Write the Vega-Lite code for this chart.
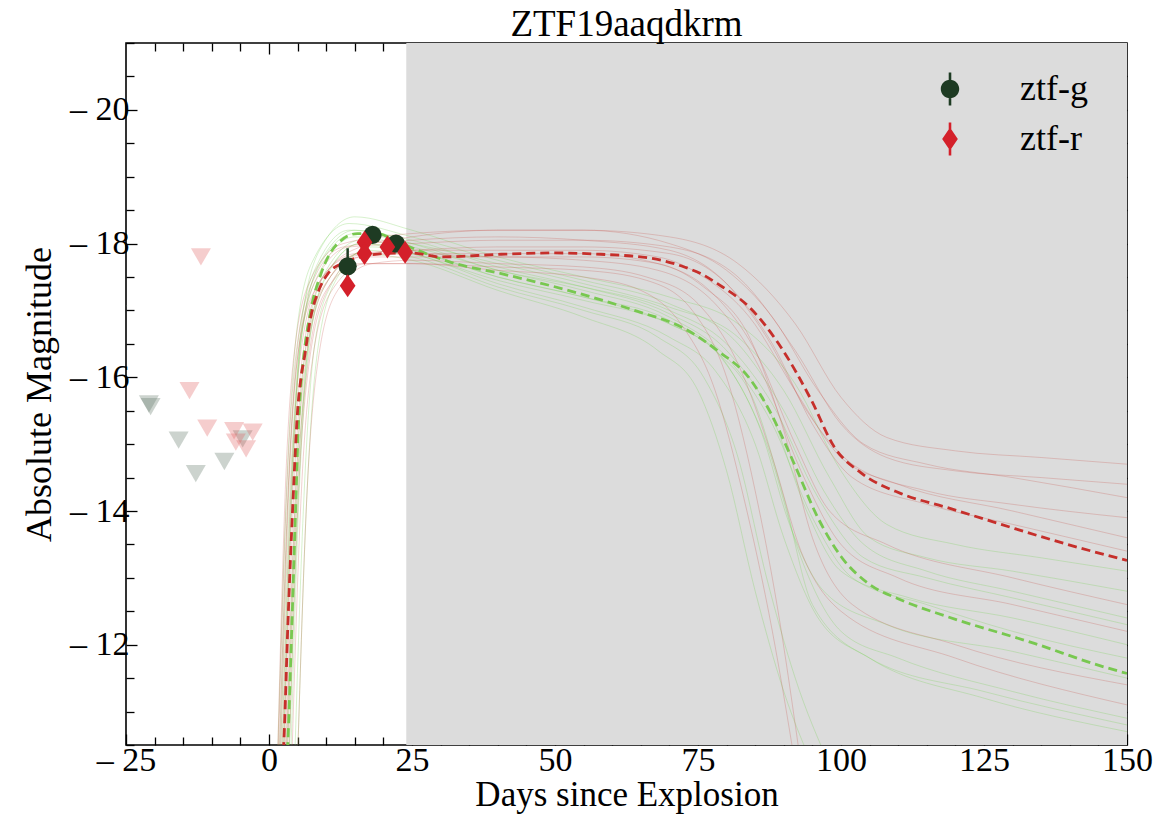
{
  "$schema": "https://vega.github.io/schema/vega-lite/v6.json",
  "width": 1001,
  "height": 702,
  "autosize": {"type": "none"},
  "padding": {"left": 126, "top": 43, "right": 27, "bottom": 69},
  "background": "white",
  "config": {
    "view": {"stroke": "black", "strokeWidth": 1.6},
    "font": "Liberation Serif"
  },
  "title": {"text": "ZTF19aaqdkrm", "font": "Liberation Serif", "fontSize": 37, "fontWeight": "normal", "offset": -18, "color": "black"},
  "datasets": {
    "shade": [{"x0": 24, "x1": 150}],
    "obs": [
      {"band": "ztf-g", "t": 13.75, "m": -17.66, "err": 0.27},
      {"band": "ztf-g", "t": 18.1, "m": -18.13, "err": 0.05},
      {"band": "ztf-g", "t": 22.2, "m": -18.0, "err": 0.05},
      {"band": "ztf-r", "t": 13.75, "m": -17.37, "err": 0.06},
      {"band": "ztf-r", "t": 16.7, "m": -18.02, "err": 0.05},
      {"band": "ztf-r", "t": 16.7, "m": -17.85, "err": 0.05},
      {"band": "ztf-r", "t": 20.7, "m": -17.95, "err": 0.04},
      {"band": "ztf-r", "t": 23.8, "m": -17.87, "err": 0.04}
    ],
    "lim_g": [
      {"t": -26.5, "m": -16.95},
      {"t": -21.0, "m": -15.6},
      {"t": -20.7, "m": -15.56},
      {"t": -15.8, "m": -15.06},
      {"t": -12.8, "m": -14.56},
      {"t": -7.8, "m": -14.74},
      {"t": -4.6, "m": -15.08}
    ],
    "lim_r": [
      {"t": -11.9, "m": -17.8},
      {"t": -13.9, "m": -15.8},
      {"t": -10.8, "m": -15.24},
      {"t": -6.1, "m": -15.2},
      {"t": -5.8, "m": -15.03},
      {"t": -4.0, "m": -14.93},
      {"t": -2.85, "m": -15.18}
    ],
    "med_g": [
      {"t": 3.1, "m": -10.2}, {"t": 3.3, "m": -10.55}, {"t": 4.0, "m": -12.3}, {"t": 4.7, "m": -14.16},
      {"t": 5.1, "m": -15.2}, {"t": 5.5, "m": -15.8}, {"t": 6.2, "m": -16.4}, {"t": 7.3, "m": -17.0},
      {"t": 9.1, "m": -17.55}, {"t": 12.0, "m": -18.0}, {"t": 15.5, "m": -18.15}, {"t": 19, "m": -18.15},
      {"t": 22, "m": -18.05}, {"t": 26, "m": -17.9}, {"t": 31.8, "m": -17.72}, {"t": 40.6, "m": -17.55},
      {"t": 52.3, "m": -17.3}, {"t": 63.9, "m": -17.0}, {"t": 72.6, "m": -16.73}, {"t": 78.4, "m": -16.4},
      {"t": 84.3, "m": -15.95}, {"t": 87.5, "m": -15.5}, {"t": 91.8, "m": -14.71}, {"t": 95.9, "m": -13.91},
      {"t": 100, "m": -13.32}, {"t": 104.7, "m": -12.92}, {"t": 110.5, "m": -12.67}, {"t": 118.6, "m": -12.42},
      {"t": 133.8, "m": -12.02}, {"t": 145.5, "m": -11.68}, {"t": 150, "m": -11.57}
    ],
    "med_r": [
      {"t": 2.4, "m": -10.2}, {"t": 2.6, "m": -10.55}, {"t": 3.3, "m": -12.3}, {"t": 4.2, "m": -14.16},
      {"t": 5.0, "m": -15.5}, {"t": 5.6, "m": -16.0}, {"t": 6.2, "m": -16.3}, {"t": 7.3, "m": -16.9},
      {"t": 8.7, "m": -17.3}, {"t": 10.3, "m": -17.55}, {"t": 13.2, "m": -17.72}, {"t": 16.1, "m": -17.8},
      {"t": 20, "m": -17.85}, {"t": 24.8, "m": -17.86}, {"t": 30, "m": -17.8}, {"t": 40.6, "m": -17.84},
      {"t": 50, "m": -17.86}, {"t": 58, "m": -17.84}, {"t": 66.8, "m": -17.78}, {"t": 72.6, "m": -17.65},
      {"t": 75.5, "m": -17.55}, {"t": 78.4, "m": -17.4}, {"t": 84.3, "m": -17.02}, {"t": 89.5, "m": -16.45},
      {"t": 94.8, "m": -15.66}, {"t": 98.8, "m": -14.96}, {"t": 103.5, "m": -14.57}, {"t": 110.5, "m": -14.26},
      {"t": 118.6, "m": -14.05}, {"t": 128, "m": -13.8}, {"t": 139.6, "m": -13.5},
      {"t": 150, "m": -13.26}
    ],
    "samp_g": [
      {"id": "g1", "t": 2.0, "m": -10.3}, {"id": "g1", "t": 3.5, "m": -14.0}, {"id": "g1", "t": 5.5, "m": -16.5}, {"id": "g1", "t": 9, "m": -17.6}, {"id": "g1", "t": 15, "m": -18.1}, {"id": "g1", "t": 25, "m": -17.95}, {"id": "g1", "t": 40, "m": -17.6}, {"id": "g1", "t": 55, "m": -17.3}, {"id": "g1", "t": 70, "m": -16.9}, {"id": "g1", "t": 80, "m": -16.3}, {"id": "g1", "t": 88, "m": -15.3}, {"id": "g1", "t": 95, "m": -13.9}, {"id": "g1", "t": 102, "m": -13.0}, {"id": "g1", "t": 115, "m": -12.6}, {"id": "g1", "t": 130, "m": -12.2}, {"id": "g1", "t": 150, "m": -11.8},
      {"id": "g2", "t": 3.5, "m": -10.3}, {"id": "g2", "t": 5, "m": -14.0}, {"id": "g2", "t": 7, "m": -16.6}, {"id": "g2", "t": 10, "m": -17.5}, {"id": "g2", "t": 16, "m": -18.0}, {"id": "g2", "t": 25, "m": -17.85}, {"id": "g2", "t": 40, "m": -17.45}, {"id": "g2", "t": 55, "m": -17.15}, {"id": "g2", "t": 70, "m": -16.8}, {"id": "g2", "t": 78, "m": -16.4}, {"id": "g2", "t": 85, "m": -15.6}, {"id": "g2", "t": 90, "m": -14.2}, {"id": "g2", "t": 95, "m": -12.6}, {"id": "g2", "t": 105, "m": -11.8}, {"id": "g2", "t": 125, "m": -11.3}, {"id": "g2", "t": 150, "m": -10.8},
      {"id": "g3", "t": 1.5, "m": -10.3}, {"id": "g3", "t": 3, "m": -14.2}, {"id": "g3", "t": 5, "m": -16.8}, {"id": "g3", "t": 8, "m": -17.8}, {"id": "g3", "t": 14, "m": -18.3}, {"id": "g3", "t": 25, "m": -18.1}, {"id": "g3", "t": 40, "m": -17.75}, {"id": "g3", "t": 55, "m": -17.45}, {"id": "g3", "t": 70, "m": -17.1}, {"id": "g3", "t": 82, "m": -16.5}, {"id": "g3", "t": 90, "m": -15.5}, {"id": "g3", "t": 97, "m": -14.3}, {"id": "g3", "t": 104, "m": -13.5}, {"id": "g3", "t": 115, "m": -13.1}, {"id": "g3", "t": 130, "m": -12.8}, {"id": "g3", "t": 150, "m": -12.4},
      {"id": "g4", "t": 4.5, "m": -10.3}, {"id": "g4", "t": 6, "m": -14.0}, {"id": "g4", "t": 8, "m": -16.5}, {"id": "g4", "t": 11, "m": -17.4}, {"id": "g4", "t": 17, "m": -17.9}, {"id": "g4", "t": 25, "m": -17.8}, {"id": "g4", "t": 40, "m": -17.35}, {"id": "g4", "t": 55, "m": -17.0}, {"id": "g4", "t": 68, "m": -16.6}, {"id": "g4", "t": 76, "m": -16.0}, {"id": "g4", "t": 82, "m": -14.8}, {"id": "g4", "t": 87, "m": -13.0}, {"id": "g4", "t": 92, "m": -11.5}, {"id": "g4", "t": 98, "m": -10.2},
      {"id": "g5", "t": 2.5, "m": -10.3}, {"id": "g5", "t": 4, "m": -14.3}, {"id": "g5", "t": 6, "m": -16.8}, {"id": "g5", "t": 9.5, "m": -17.8}, {"id": "g5", "t": 15, "m": -18.2}, {"id": "g5", "t": 25, "m": -18.0}, {"id": "g5", "t": 40, "m": -17.6}, {"id": "g5", "t": 55, "m": -17.35}, {"id": "g5", "t": 70, "m": -17.0}, {"id": "g5", "t": 80, "m": -16.5}, {"id": "g5", "t": 88, "m": -15.6}, {"id": "g5", "t": 96, "m": -14.2}, {"id": "g5", "t": 104, "m": -13.3}, {"id": "g5", "t": 115, "m": -13.0}, {"id": "g5", "t": 130, "m": -12.7}, {"id": "g5", "t": 150, "m": -12.3},
      {"id": "g6", "t": 3, "m": -10.3}, {"id": "g6", "t": 4.5, "m": -14.0}, {"id": "g6", "t": 6.5, "m": -16.5}, {"id": "g6", "t": 10, "m": -17.6}, {"id": "g6", "t": 16, "m": -18.05}, {"id": "g6", "t": 25, "m": -17.9}, {"id": "g6", "t": 40, "m": -17.5}, {"id": "g6", "t": 55, "m": -17.2}, {"id": "g6", "t": 70, "m": -16.85}, {"id": "g6", "t": 80, "m": -16.2}, {"id": "g6", "t": 87, "m": -15.0}, {"id": "g6", "t": 93, "m": -13.3}, {"id": "g6", "t": 100, "m": -12.2}, {"id": "g6", "t": 110, "m": -11.8}, {"id": "g6", "t": 130, "m": -11.3}, {"id": "g6", "t": 150, "m": -10.9},
      {"id": "g7", "t": 2.2, "m": -10.3}, {"id": "g7", "t": 3.8, "m": -14.2}, {"id": "g7", "t": 5.8, "m": -16.7}, {"id": "g7", "t": 9, "m": -17.7}, {"id": "g7", "t": 15, "m": -18.15}, {"id": "g7", "t": 25, "m": -18.0}, {"id": "g7", "t": 40, "m": -17.7}, {"id": "g7", "t": 55, "m": -17.4}, {"id": "g7", "t": 70, "m": -17.05}, {"id": "g7", "t": 82, "m": -16.6}, {"id": "g7", "t": 90, "m": -15.8}, {"id": "g7", "t": 98, "m": -14.5}, {"id": "g7", "t": 105, "m": -13.6}, {"id": "g7", "t": 115, "m": -13.3}, {"id": "g7", "t": 130, "m": -13.1}, {"id": "g7", "t": 150, "m": -12.8},
      {"id": "g8", "t": 5, "m": -10.3}, {"id": "g8", "t": 6.5, "m": -14.0}, {"id": "g8", "t": 8.5, "m": -16.4}, {"id": "g8", "t": 12, "m": -17.5}, {"id": "g8", "t": 18, "m": -17.95}, {"id": "g8", "t": 25, "m": -17.85}, {"id": "g8", "t": 40, "m": -17.4}, {"id": "g8", "t": 55, "m": -17.05}, {"id": "g8", "t": 70, "m": -16.6}, {"id": "g8", "t": 78, "m": -16.1}, {"id": "g8", "t": 85, "m": -15.0}, {"id": "g8", "t": 90, "m": -13.6}, {"id": "g8", "t": 96, "m": -12.4}, {"id": "g8", "t": 105, "m": -11.8}, {"id": "g8", "t": 125, "m": -11.2}, {"id": "g8", "t": 150, "m": -10.7},
      {"id": "g9", "t": 1.8, "m": -10.3}, {"id": "g9", "t": 3.2, "m": -14.0}, {"id": "g9", "t": 5.2, "m": -16.6}, {"id": "g9", "t": 8.5, "m": -17.7}, {"id": "g9", "t": 14, "m": -18.2}, {"id": "g9", "t": 25, "m": -18.05}, {"id": "g9", "t": 40, "m": -17.65}, {"id": "g9", "t": 55, "m": -17.35}, {"id": "g9", "t": 70, "m": -16.95}, {"id": "g9", "t": 80, "m": -16.4}, {"id": "g9", "t": 88, "m": -15.4}, {"id": "g9", "t": 94, "m": -14.0}, {"id": "g9", "t": 100, "m": -13.1}, {"id": "g9", "t": 112, "m": -12.7}, {"id": "g9", "t": 130, "m": -12.4}, {"id": "g9", "t": 150, "m": -12.0},
      {"id": "g10", "t": 3.8, "m": -10.3}, {"id": "g10", "t": 5.2, "m": -14.1}, {"id": "g10", "t": 7.2, "m": -16.6}, {"id": "g10", "t": 10.5, "m": -17.6}, {"id": "g10", "t": 16, "m": -18.0}, {"id": "g10", "t": 25, "m": -17.9}, {"id": "g10", "t": 40, "m": -17.5}, {"id": "g10", "t": 55, "m": -17.2}, {"id": "g10", "t": 70, "m": -16.8}, {"id": "g10", "t": 79, "m": -16.3}, {"id": "g10", "t": 86, "m": -15.2}, {"id": "g10", "t": 91, "m": -13.8}, {"id": "g10", "t": 97, "m": -12.8}, {"id": "g10", "t": 108, "m": -12.3}, {"id": "g10", "t": 130, "m": -11.9}, {"id": "g10", "t": 150, "m": -11.5},
      {"id": "g11", "t": 2.5, "m": -10.3}, {"id": "g11", "t": 4, "m": -14.4}, {"id": "g11", "t": 6, "m": -17.0}, {"id": "g11", "t": 9.5, "m": -18.0}, {"id": "g11", "t": 15, "m": -18.4}, {"id": "g11", "t": 25, "m": -18.2}, {"id": "g11", "t": 40, "m": -17.8}, {"id": "g11", "t": 55, "m": -17.5}, {"id": "g11", "t": 70, "m": -17.2}, {"id": "g11", "t": 82, "m": -16.8}, {"id": "g11", "t": 92, "m": -15.9}, {"id": "g11", "t": 100, "m": -14.6}, {"id": "g11", "t": 108, "m": -13.8}, {"id": "g11", "t": 120, "m": -13.5}, {"id": "g11", "t": 135, "m": -13.3}, {"id": "g11", "t": 150, "m": -13.1},
      {"id": "g12", "t": 3.2, "m": -10.3}, {"id": "g12", "t": 4.8, "m": -14.0}, {"id": "g12", "t": 6.8, "m": -16.4}, {"id": "g12", "t": 10, "m": -17.4}, {"id": "g12", "t": 16, "m": -17.85}, {"id": "g12", "t": 25, "m": -17.75}, {"id": "g12", "t": 40, "m": -17.3}, {"id": "g12", "t": 55, "m": -16.9}, {"id": "g12", "t": 68, "m": -16.4}, {"id": "g12", "t": 75, "m": -15.8}, {"id": "g12", "t": 80, "m": -14.6}, {"id": "g12", "t": 85, "m": -12.8}, {"id": "g12", "t": 90, "m": -11.3}, {"id": "g12", "t": 95, "m": -10.2}
    ],
    "samp_r": [
      {"id": "r1", "t": 1.8, "m": -10.3}, {"id": "r1", "t": 3.2, "m": -14.0}, {"id": "r1", "t": 5, "m": -16.3}, {"id": "r1", "t": 8, "m": -17.3}, {"id": "r1", "t": 14, "m": -17.8}, {"id": "r1", "t": 25, "m": -17.9}, {"id": "r1", "t": 40, "m": -17.9}, {"id": "r1", "t": 55, "m": -17.9}, {"id": "r1", "t": 68, "m": -17.8}, {"id": "r1", "t": 76, "m": -17.5}, {"id": "r1", "t": 84, "m": -16.9}, {"id": "r1", "t": 92, "m": -15.8}, {"id": "r1", "t": 100, "m": -14.8}, {"id": "r1", "t": 110, "m": -14.4}, {"id": "r1", "t": 130, "m": -14.0}, {"id": "r1", "t": 150, "m": -13.6},
      {"id": "r2", "t": 3, "m": -10.3}, {"id": "r2", "t": 4.5, "m": -14.0}, {"id": "r2", "t": 6.5, "m": -16.3}, {"id": "r2", "t": 10, "m": -17.4}, {"id": "r2", "t": 16, "m": -17.85}, {"id": "r2", "t": 25, "m": -17.85}, {"id": "r2", "t": 40, "m": -17.8}, {"id": "r2", "t": 55, "m": -17.8}, {"id": "r2", "t": 68, "m": -17.7}, {"id": "r2", "t": 76, "m": -17.35}, {"id": "r2", "t": 84, "m": -16.6}, {"id": "r2", "t": 90, "m": -15.2}, {"id": "r2", "t": 95, "m": -13.6}, {"id": "r2", "t": 102, "m": -12.6}, {"id": "r2", "t": 120, "m": -12.0}, {"id": "r2", "t": 150, "m": -11.4},
      {"id": "r3", "t": 1.5, "m": -10.3}, {"id": "r3", "t": 2.8, "m": -14.2}, {"id": "r3", "t": 4.6, "m": -16.5}, {"id": "r3", "t": 7.5, "m": -17.5}, {"id": "r3", "t": 13, "m": -18.0}, {"id": "r3", "t": 25, "m": -18.15}, {"id": "r3", "t": 40, "m": -18.2}, {"id": "r3", "t": 55, "m": -18.2}, {"id": "r3", "t": 70, "m": -18.0}, {"id": "r3", "t": 80, "m": -17.6}, {"id": "r3", "t": 88, "m": -16.9}, {"id": "r3", "t": 96, "m": -15.8}, {"id": "r3", "t": 104, "m": -15.0}, {"id": "r3", "t": 115, "m": -14.7}, {"id": "r3", "t": 130, "m": -14.5}, {"id": "r3", "t": 150, "m": -14.2},
      {"id": "r4", "t": 4, "m": -10.3}, {"id": "r4", "t": 5.5, "m": -14.0}, {"id": "r4", "t": 7.5, "m": -16.2}, {"id": "r4", "t": 11, "m": -17.3}, {"id": "r4", "t": 17, "m": -17.7}, {"id": "r4", "t": 25, "m": -17.7}, {"id": "r4", "t": 40, "m": -17.65}, {"id": "r4", "t": 55, "m": -17.6}, {"id": "r4", "t": 66, "m": -17.45}, {"id": "r4", "t": 74, "m": -17.0}, {"id": "r4", "t": 80, "m": -16.0}, {"id": "r4", "t": 85, "m": -14.3}, {"id": "r4", "t": 89, "m": -12.5}, {"id": "r4", "t": 93, "m": -10.2},
      {"id": "r5", "t": 2.3, "m": -10.3}, {"id": "r5", "t": 3.7, "m": -14.1}, {"id": "r5", "t": 5.6, "m": -16.4}, {"id": "r5", "t": 9, "m": -17.45}, {"id": "r5", "t": 15, "m": -17.85}, {"id": "r5", "t": 25, "m": -17.9}, {"id": "r5", "t": 40, "m": -17.95}, {"id": "r5", "t": 55, "m": -17.95}, {"id": "r5", "t": 70, "m": -17.85}, {"id": "r5", "t": 80, "m": -17.4}, {"id": "r5", "t": 88, "m": -16.5}, {"id": "r5", "t": 95, "m": -15.3}, {"id": "r5", "t": 102, "m": -14.5}, {"id": "r5", "t": 115, "m": -14.1}, {"id": "r5", "t": 130, "m": -13.8}, {"id": "r5", "t": 150, "m": -13.4},
      {"id": "r6", "t": 2.8, "m": -10.3}, {"id": "r6", "t": 4.2, "m": -14.0}, {"id": "r6", "t": 6.2, "m": -16.3}, {"id": "r6", "t": 9.5, "m": -17.35}, {"id": "r6", "t": 16, "m": -17.8}, {"id": "r6", "t": 25, "m": -17.8}, {"id": "r6", "t": 40, "m": -17.8}, {"id": "r6", "t": 55, "m": -17.75}, {"id": "r6", "t": 68, "m": -17.6}, {"id": "r6", "t": 78, "m": -17.1}, {"id": "r6", "t": 86, "m": -16.1}, {"id": "r6", "t": 93, "m": -14.6}, {"id": "r6", "t": 100, "m": -13.5}, {"id": "r6", "t": 110, "m": -13.0}, {"id": "r6", "t": 130, "m": -12.6}, {"id": "r6", "t": 150, "m": -12.2},
      {"id": "r7", "t": 2.0, "m": -10.3}, {"id": "r7", "t": 3.4, "m": -14.2}, {"id": "r7", "t": 5.3, "m": -16.5}, {"id": "r7", "t": 8.5, "m": -17.5}, {"id": "r7", "t": 14, "m": -17.95}, {"id": "r7", "t": 25, "m": -18.0}, {"id": "r7", "t": 40, "m": -18.05}, {"id": "r7", "t": 55, "m": -18.05}, {"id": "r7", "t": 70, "m": -17.95}, {"id": "r7", "t": 82, "m": -17.5}, {"id": "r7", "t": 92, "m": -16.4}, {"id": "r7", "t": 100, "m": -15.3}, {"id": "r7", "t": 108, "m": -14.8}, {"id": "r7", "t": 120, "m": -14.6}, {"id": "r7", "t": 135, "m": -14.5}, {"id": "r7", "t": 150, "m": -14.4},
      {"id": "r8", "t": 5, "m": -10.3}, {"id": "r8", "t": 6.5, "m": -14.0}, {"id": "r8", "t": 8.5, "m": -16.2}, {"id": "r8", "t": 12, "m": -17.3}, {"id": "r8", "t": 18, "m": -17.7}, {"id": "r8", "t": 25, "m": -17.75}, {"id": "r8", "t": 40, "m": -17.7}, {"id": "r8", "t": 55, "m": -17.65}, {"id": "r8", "t": 66, "m": -17.5}, {"id": "r8", "t": 75, "m": -17.1}, {"id": "r8", "t": 82, "m": -16.2}, {"id": "r8", "t": 88, "m": -14.8}, {"id": "r8", "t": 93, "m": -13.4}, {"id": "r8", "t": 100, "m": -12.5}, {"id": "r8", "t": 120, "m": -11.8}, {"id": "r8", "t": 150, "m": -11.1},
      {"id": "r9", "t": 1.6, "m": -10.3}, {"id": "r9", "t": 3, "m": -14.1}, {"id": "r9", "t": 4.8, "m": -16.4}, {"id": "r9", "t": 8, "m": -17.5}, {"id": "r9", "t": 13, "m": -17.95}, {"id": "r9", "t": 25, "m": -18.05}, {"id": "r9", "t": 40, "m": -18.1}, {"id": "r9", "t": 55, "m": -18.05}, {"id": "r9", "t": 70, "m": -17.9}, {"id": "r9", "t": 80, "m": -17.4}, {"id": "r9", "t": 87, "m": -16.6}, {"id": "r9", "t": 94, "m": -15.5}, {"id": "r9", "t": 102, "m": -14.7}, {"id": "r9", "t": 115, "m": -14.3}, {"id": "r9", "t": 130, "m": -14.1}, {"id": "r9", "t": 150, "m": -13.9},
      {"id": "r10", "t": 3.5, "m": -10.3}, {"id": "r10", "t": 5, "m": -14.0}, {"id": "r10", "t": 7, "m": -16.2}, {"id": "r10", "t": 10.5, "m": -17.35}, {"id": "r10", "t": 16, "m": -17.8}, {"id": "r10", "t": 25, "m": -17.85}, {"id": "r10", "t": 40, "m": -17.85}, {"id": "r10", "t": 55, "m": -17.85}, {"id": "r10", "t": 68, "m": -17.7}, {"id": "r10", "t": 77, "m": -17.3}, {"id": "r10", "t": 85, "m": -16.4}, {"id": "r10", "t": 92, "m": -15.0}, {"id": "r10", "t": 98, "m": -14.0}, {"id": "r10", "t": 108, "m": -13.5}, {"id": "r10", "t": 130, "m": -13.0}, {"id": "r10", "t": 150, "m": -12.6},
      {"id": "r11", "t": 2.6, "m": -10.3}, {"id": "r11", "t": 4, "m": -14.1}, {"id": "r11", "t": 6, "m": -16.4}, {"id": "r11", "t": 9.5, "m": -17.5}, {"id": "r11", "t": 16, "m": -17.95}, {"id": "r11", "t": 25, "m": -18.1}, {"id": "r11", "t": 40, "m": -18.2}, {"id": "r11", "t": 55, "m": -18.2}, {"id": "r11", "t": 70, "m": -18.1}, {"id": "r11", "t": 82, "m": -17.7}, {"id": "r11", "t": 92, "m": -16.8}, {"id": "r11", "t": 100, "m": -15.7}, {"id": "r11", "t": 108, "m": -15.1}, {"id": "r11", "t": 120, "m": -14.9}, {"id": "r11", "t": 135, "m": -14.8}, {"id": "r11", "t": 150, "m": -14.7},
      {"id": "r12", "t": 3.2, "m": -10.3}, {"id": "r12", "t": 4.7, "m": -14.0}, {"id": "r12", "t": 6.8, "m": -16.2}, {"id": "r12", "t": 10, "m": -17.3}, {"id": "r12", "t": 16, "m": -17.7}, {"id": "r12", "t": 25, "m": -17.7}, {"id": "r12", "t": 40, "m": -17.6}, {"id": "r12", "t": 55, "m": -17.5}, {"id": "r12", "t": 65, "m": -17.3}, {"id": "r12", "t": 72, "m": -16.8}, {"id": "r12", "t": 78, "m": -15.8}, {"id": "r12", "t": 83, "m": -14.2}, {"id": "r12", "t": 88, "m": -12.2}, {"id": "r12", "t": 92, "m": -10.2}
    ]
  },
  "resolve": {"axis": {"x": "independent", "y": "independent"}},
  "layer": [
    {
      "data": {"name": "shade"},
      "mark": {"type": "rect", "color": "#dcdcdc"},
      "encoding": {
        "x": {"field": "x0", "type": "quantitative", "scale": {"domain": [-25, 150], "nice": false, "zero": false}, "axis": null},
        "x2": {"field": "x1"}
      }
    },
    {
      "data": {"name": "lim_g"},
      "mark": {"type": "point", "shape": "triangle-down", "filled": true, "size": 400, "color": "#5f7566", "opacity": 0.32, "clip": true},
      "encoding": {
        "x": {"field": "t", "type": "quantitative", "axis": null},
        "y": {"field": "m", "type": "quantitative", "scale": {"domain": [-21, -10.5], "reverse": true, "nice": false, "zero": false}, "axis": null}
      }
    },
    {
      "data": {"name": "lim_r"},
      "mark": {"type": "point", "shape": "triangle-down", "filled": true, "size": 400, "color": "#df5a5a", "opacity": 0.3, "clip": true},
      "encoding": {
        "x": {"field": "t", "type": "quantitative", "axis": null},
        "y": {"field": "m", "type": "quantitative", "axis": null}
      }
    },
    {
      "data": {"name": "samp_g"},
      "mark": {"type": "line", "color": "#7fd35c", "strokeWidth": 0.9, "opacity": 0.35, "interpolate": "monotone", "clip": true},
      "encoding": {
        "x": {"field": "t", "type": "quantitative", "axis": {
          "orient": "bottom", "values": [-25,-20,-15,-10,-5,0,5,10,15,20,25,30,35,40,45,50,55,60,65,70,75,80,85,90,95,100,105,110,115,120,125,130,135,140,145,150],
          "labelExpr": "datum.value % 25 === 0 ? (datum.value < 0 ? '– ' + format(abs(datum.value), 'd') : datum.label) : ''",
          "tickSize": {"condition": {"test": "datum.value % 25 === 0", "value": -11}, "value": -8},
          "tickColor": "black", "tickWidth": 1.3, "domain": false, "grid": false,
          "labelFont": "Liberation Serif", "labelFontSize": 34, "labelColor": "black", "labelPadding": 9, "labelFlush": false, "labelOverlap": false,
          "title": "Days since Explosion", "titleFont": "Liberation Serif", "titleFontSize": 35, "titleFontWeight": "normal", "titleColor": "black", "titlePadding": -3
        }},
        "y": {"field": "m", "type": "quantitative", "axis": {
          "orient": "left", "values": [-21,-20.5,-20,-19.5,-19,-18.5,-18,-17.5,-17,-16.5,-16,-15.5,-15,-14.5,-14,-13.5,-13,-12.5,-12,-11.5,-11,-10.5],
          "labelExpr": "datum.value % 2 === 0 ? '– ' + format(abs(datum.value), 'd') : ''",
          "tickSize": {"condition": {"test": "datum.value % 2 === 0", "value": -11}, "value": -8},
          "tickColor": "black", "tickWidth": 1.3, "domain": false, "grid": false,
          "labelFont": "Liberation Serif", "labelFontSize": 34, "labelColor": "black", "labelPadding": 8, "labelFlush": false, "labelOverlap": false,
          "title": "Absolute Magnitude", "titleFont": "Liberation Serif", "titleFontSize": 36, "titleFontWeight": "normal", "titleColor": "black", "titlePadding": 11
        }},
        "detail": {"field": "id"}
      }
    },
    {
      "data": {"name": "samp_r"},
      "mark": {"type": "line", "color": "#c9564c", "strokeWidth": 0.9, "opacity": 0.3, "interpolate": "monotone", "clip": true},
      "encoding": {
        "x": {"field": "t", "type": "quantitative", "axis": {
          "orient": "top", "values": [-20,-15,-10,-5,0,5,10,15,20,25,30,35,40,45,50,55,60,65,70,75,80,85,90,95,100,105,110,115,120,125,130,135,140,145],
          "labels": false, "title": null,
          "tickSize": {"condition": {"test": "datum.value % 25 === 0", "value": -11}, "value": -8},
          "tickColor": "black", "tickWidth": 1.3, "domain": false, "grid": false
        }},
        "y": {"field": "m", "type": "quantitative", "axis": {
          "orient": "right", "values": [-20.5,-20,-19.5,-19,-18.5,-18,-17.5,-17,-16.5,-16,-15.5,-15,-14.5,-14,-13.5,-13,-12.5,-12,-11.5,-11],
          "labels": false, "title": null,
          "tickSize": {"condition": {"test": "datum.value % 2 === 0", "value": -11}, "value": -8},
          "tickColor": "black", "tickWidth": 1.3, "domain": false, "grid": false
        }},
        "detail": {"field": "id"}
      }
    },
    {
      "data": {"name": "med_g"},
      "mark": {"type": "line", "color": "#78c850", "strokeWidth": 2.8, "strokeDash": [9, 5], "interpolate": "monotone", "clip": true},
      "encoding": {
        "x": {"field": "t", "type": "quantitative", "axis": null},
        "y": {"field": "m", "type": "quantitative", "axis": null}
      }
    },
    {
      "data": {"name": "med_r"},
      "mark": {"type": "line", "color": "#c62f2b", "strokeWidth": 2.8, "strokeDash": [9, 5], "interpolate": "monotone", "clip": true},
      "encoding": {
        "x": {"field": "t", "type": "quantitative", "axis": null},
        "y": {"field": "m", "type": "quantitative", "axis": null}
      }
    },
    {
      "data": {"name": "obs"},
      "transform": [{"filter": "datum.band === 'ztf-g'"}],
      "mark": {"type": "errorbar", "color": "#1e3b23", "thickness": 2.5},
      "encoding": {
        "x": {"field": "t", "type": "quantitative", "axis": null},
        "y": {"field": "m", "type": "quantitative", "axis": null},
        "yError": {"field": "err"}
      }
    },
    {
      "data": {"name": "obs"},
      "transform": [{"filter": "datum.band === 'ztf-r'"}],
      "mark": {"type": "errorbar", "color": "#d4202a", "thickness": 2.5},
      "encoding": {
        "x": {"field": "t", "type": "quantitative", "axis": null},
        "y": {"field": "m", "type": "quantitative", "axis": null},
        "yError": {"field": "err"}
      }
    },
    {
      "data": {"name": "obs"},
      "transform": [{"filter": "datum.band === 'ztf-g'"}],
      "mark": {"type": "point", "shape": "circle", "filled": true, "size": 330, "color": "#1e3b23", "opacity": 1},
      "encoding": {
        "x": {"field": "t", "type": "quantitative", "axis": null},
        "y": {"field": "m", "type": "quantitative", "axis": null}
      }
    },
    {
      "data": {"name": "obs"},
      "transform": [{"filter": "datum.band === 'ztf-r'"}],
      "mark": {"type": "point", "shape": "M0,-1.25L0.85,0L0,1.25L-0.85,0Z", "filled": true, "size": 340, "color": "#d4202a", "opacity": 1},
      "encoding": {
        "x": {"field": "t", "type": "quantitative", "axis": null},
        "y": {"field": "m", "type": "quantitative", "axis": null}
      }
    },
    {
      "data": {"name": "obs"},
      "mark": {"type": "point", "filled": true, "size": 340, "opacity": 0},
      "encoding": {
        "x": {"field": "t", "type": "quantitative", "axis": null},
        "y": {"field": "m", "type": "quantitative", "axis": null},
        "color": {"field": "band", "type": "nominal", "scale": {"domain": ["ztf-g", "ztf-r"], "range": ["#1e3b23", "#d4202a"]},
          "legend": {"title": null, "orient": "none", "legendX": 806, "legendY": 28, "labelFont": "Liberation Serif", "labelFontSize": 36, "labelColor": "black", "labelOffset": 52, "rowPadding": 14, "symbolSize": 340, "symbolOpacity": 1, "symbolStrokeWidth": 0, "padding": 0,
            "encode": {"symbols": {"update": {"opacity": {"value": 1}, "fillOpacity": {"value": 1}}}}}},
        "shape": {"field": "band", "type": "nominal", "scale": {"domain": ["ztf-g", "ztf-r"], "range": ["M-1,0A1,1 0 1,1 1,0A1,1 0 1,1 -1,0ZM-0.14,-1.8L0.14,-1.8L0.14,1.8L-0.14,1.8Z", "M0,-1.25L0.85,0L0,1.25L-0.85,0ZM-0.14,-1.8L0.14,-1.8L0.14,1.8L-0.14,1.8Z"]}}
      }
    }
  ]
}
